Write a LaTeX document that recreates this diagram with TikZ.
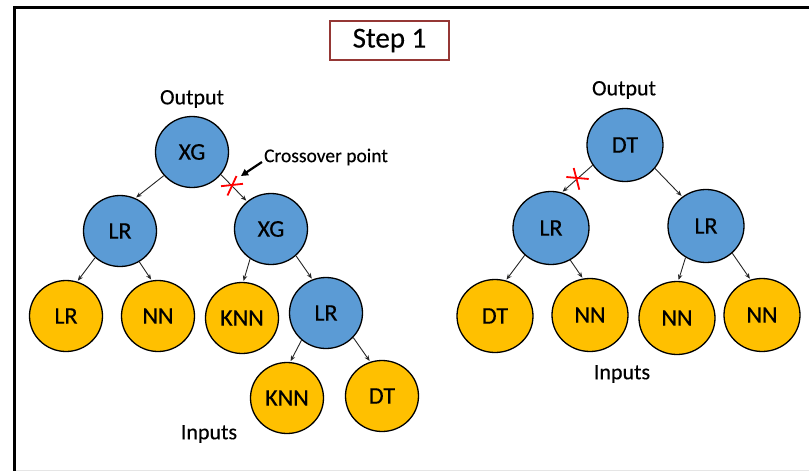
\documentclass[tikz,border=0pt]{standalone}
\usepackage{fontspec}
\setmainfont{Carlito}[FakeBold=0.3]
\usetikzlibrary{shapes.geometric,arrows.meta,calc}
\definecolor{nodeblue}{HTML}{5B9BD5}
\definecolor{nodegold}{HTML}{FFC000}
\definecolor{boxred}{HTML}{953735}
\begin{document}
\begin{tikzpicture}[x=1pt,y=-1pt,
  tnode/.style={ellipse,draw=black,line width=1.3pt,inner sep=0pt,font=\fontsize{24}{27}\selectfont},
  lsize/.style={minimum width=73pt,minimum height=71pt},
  rsize/.style={minimum width=76pt,minimum height=73pt},
  inner/.style={tnode,fill=nodeblue},
  leaf/.style={tnode,fill=nodegold},
  lbl/.style={font=\fontsize{22}{26}\selectfont,inner sep=0pt},
  edge/.style={draw=black!85,line width=0.9pt,-{Stealth[length=5.5pt,width=4.5pt]},shorten >=1pt},
  redx/.style={draw=red,line width=1.8pt},
  stepbox/.style={draw=boxred,line width=2pt,minimum width=119pt,minimum height=39pt,font=\fontsize{29}{32}\selectfont}
]
\useasboundingbox (0,0) rectangle (809,471);
% frame
\draw[line width=2.5pt,line cap=rect] (14.5,471) -- (14.5,7.5) -- (809,7.5);
\draw[black!10,line width=1pt] (16,470.5) -- (809,470.5);

\node[stepbox] (step) at (389.5,40.5) {Step 1};

% ---- left tree
\node[lbl] (outL) at (192,99) {Output};
\node[inner,lsize] (a) at (192,152) {XG};
\node[inner,lsize] (b) at (120,231) {LR};
\node[inner,lsize] (c) at (271,229) {XG};
\node[leaf,lsize] (d) at (66,316) {LR};
\node[leaf,lsize] (e) at (158,316) {NN};
\node[leaf,lsize] (f) at (242,318) {KNN};
\node[inner,lsize] (g) at (326,313) {LR};
\node[leaf,lsize] (h) at (287,398) {KNN};
\node[leaf,lsize] (i) at (382,396) {DT};
\node[lbl] (inL) at (209,434) {Inputs};

\draw[edge] (a.220) -- (b.65);
\draw[edge] (a.-38) -- (c.131);
\draw[edge] (b.227) -- (d.72);
\draw[edge] (b.-58) -- (e.100);
\draw[edge] (c.235) -- (f.88);
\draw[edge] (c.-47) -- (g.112);
\draw[edge] (g.228) -- (h.85);
\draw[edge] (g.-42) -- (i.109);

\node[font=\fontsize{19.5}{23}\selectfont,inner sep=0pt] (cp) at (326,157) {Crossover point};
\coordinate (cpend) at (241,176);
\draw[line width=2.2pt,-{Triangle[length=7pt,width=7pt]}] ($(cp.west)+(-2,5)$) -- (cpend);

\coordinate (x1) at (232,185);
\draw[redx] ($(x1)+(-11,1.2)$) -- ($(x1)+(11,-1.2)$);
\draw[redx] ($(x1)+(-4.5,10.5)$) -- ($(x1)+(4.5,-9)$);

% ---- right tree
\node[lbl] (outR) at (624,90) {Output};
\node[inner,rsize] (p) at (625,145) {DT};
\node[inner,rsize] (q) at (551,228) {LR};
\node[inner,rsize] (r) at (706,226) {LR};
\node[leaf,rsize] (s) at (495,316) {DT};
\node[leaf,rsize] (t) at (590,315) {NN};
\node[leaf,rsize] (u) at (677,318) {NN};
\node[leaf,rsize] (v) at (762,315) {NN};
\node[lbl] (inR) at (622,374) {Inputs};

\draw[edge] (p.212) -- (q.73);
\draw[edge] (p.-38) -- (r.129);
\draw[edge] (q.226) -- (s.73);
\draw[edge] (q.-59) -- (t.101);
\draw[edge] (r.237) -- (u.88);
\draw[edge] (r.-46) -- (v.108);

\coordinate (x2) at (577,178);
\draw[redx] ($(x2)+(-10.7,-1)$) -- ($(x2)+(11.7,1)$);
\draw[redx] ($(x2)+(-3.3,-10)$) -- ($(x2)+(2.3,11.7)$);
\end{tikzpicture}
\end{document}
